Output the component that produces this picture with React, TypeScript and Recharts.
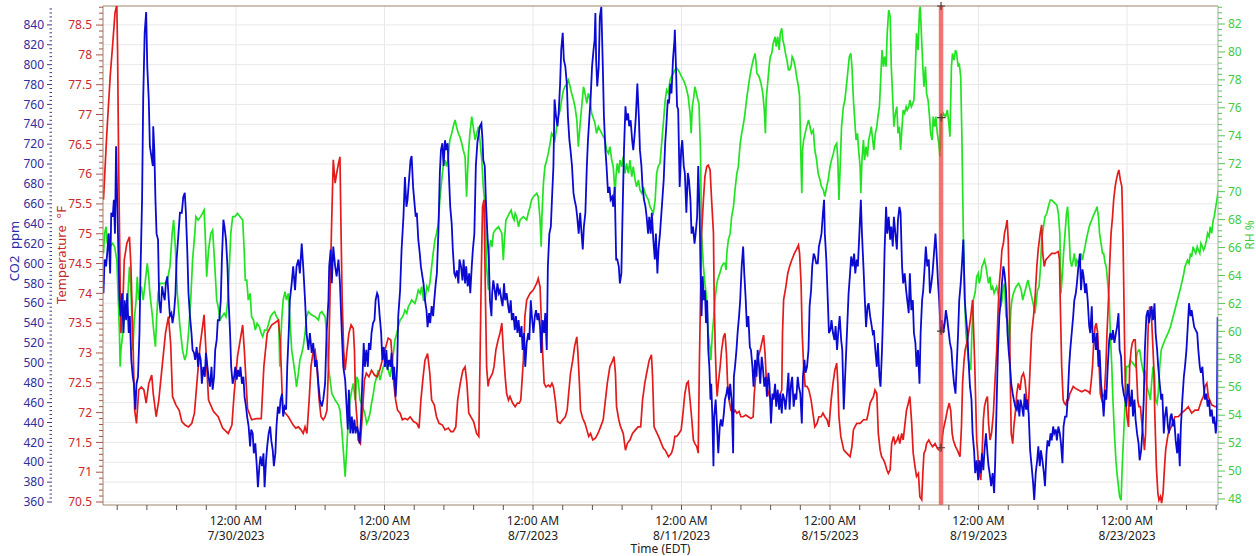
import { LineChart, Line, XAxis, YAxis, CartesianGrid, ReferenceLine, ReferenceDot } from 'recharts';

type Reading = [number, number];

// time is in days from 7/26/2023 12:00 AM EDT
const co2Readings: Reading[] = [
  [0.43,570],[0.46,604],[0.50,597],[0.53,610],[0.57,630],[0.61,590],[0.64,651],[0.68,647],[0.71,664],[0.74,630],
  [0.77,718],[0.80,664],[0.83,614],[0.86,563],[0.89,547],[0.93,570],[0.97,530],[1.00,563],[1.04,543],[1.07,570],
  [1.11,530],[1.14,547],[1.18,503],[1.22,486],[1.25,479],[1.29,453],[1.32,479],[1.36,486],[1.40,530],[1.43,597],
  [1.47,664],[1.50,765],[1.54,832],[1.58,853],[1.61,798],[1.65,765],[1.68,718],[1.72,708],[1.76,698],[1.77,738],
  [1.80,714],[1.83,664],[1.86,630],[1.90,624],[1.93,563],[1.97,550],[2.01,577],[2.04,570],[2.08,563],[2.11,580],
  [2.15,587],[2.19,563],[2.22,547],[2.26,550],[2.29,540],[2.33,550],[2.37,570],[2.40,604],[2.45,630],[2.49,651],
  [2.54,651],[2.58,667],[2.62,671],[2.65,651],[2.69,610],[2.72,570],[2.76,547],[2.80,530],[2.83,513],[2.87,510],
  [2.90,503],[2.94,516],[2.98,496],[3.01,510],[3.05,503],[3.08,479],[3.12,496],[3.16,486],[3.19,510],[3.23,496],
  [3.26,486],[3.30,476],[3.34,496],[3.37,473],[3.41,486],[3.44,513],[3.48,523],[3.51,543],[3.55,543],[3.59,563],
  [3.62,604],[3.66,644],[3.69,637],[3.73,624],[3.77,597],[3.80,563],[3.84,530],[3.87,496],[3.91,479],[3.95,486],
  [3.98,496],[4.02,483],[4.05,493],[4.09,486],[4.12,496],[4.16,479],[4.20,486],[4.23,466],[4.27,456],[4.30,446],
  [4.34,436],[4.38,416],[4.41,433],[4.45,429],[4.48,409],[4.52,419],[4.56,396],[4.59,375],[4.63,396],[4.66,406],
  [4.70,396],[4.74,409],[4.77,375],[4.81,402],[4.84,416],[4.88,429],[4.92,436],[4.95,422],[4.99,412],[5.02,396],
  [5.06,409],[5.09,436],[5.13,456],[5.17,449],[5.20,463],[5.24,469],[5.27,446],[5.31,456],[5.35,453],[5.38,496],
  [5.42,530],[5.45,563],[5.50,580],[5.54,597],[5.59,573],[5.63,597],[5.68,604],[5.72,590],[5.77,620],[5.81,597],
  [5.86,563],[5.90,530],[5.95,513],[5.99,530],[6.04,510],[6.08,520],[6.13,496],[6.17,503],[6.22,479],[6.26,463],
  [6.31,456],[6.35,463],[6.40,479],[6.44,530],[6.49,563],[6.51,597],[6.55,614],[6.58,580],[6.62,617],[6.67,597],
  [6.71,587],[6.76,604],[6.80,580],[6.85,530],[6.89,496],[6.94,483],[6.97,463],[7.01,433],[7.04,473],[7.08,429],
  [7.12,446],[7.15,429],[7.19,443],[7.22,429],[7.26,436],[7.30,429],[7.33,419],[7.37,446],[7.40,479],[7.44,520],
  [7.47,496],[7.51,513],[7.55,496],[7.58,520],[7.62,513],[7.65,530],[7.69,540],[7.73,543],[7.76,563],[7.80,570],
  [7.83,567],[7.87,547],[7.91,530],[7.94,503],[7.98,516],[8.01,496],[8.05,513],[8.08,493],[8.12,503],[8.16,496],
  [8.19,510],[8.23,483],[8.26,496],[8.30,466],[8.34,496],[8.37,547],[8.42,573],[8.46,614],[8.51,647],[8.55,687],
  [8.59,657],[8.62,664],[8.66,684],[8.70,704],[8.73,708],[8.77,677],[8.80,664],[8.84,647],[8.87,651],[8.91,624],
  [8.95,610],[8.98,597],[9.02,587],[9.05,580],[9.09,563],[9.13,553],[9.16,536],[9.20,550],[9.23,540],[9.27,557],
  [9.31,547],[9.34,563],[9.38,580],[9.41,590],[9.45,630],[9.49,691],[9.52,714],[9.56,721],[9.59,698],[9.63,724],
  [9.66,714],[9.70,721],[9.74,684],[9.77,657],[9.81,640],[9.84,614],[9.88,590],[9.91,587],[9.95,593],[9.99,580],
  [10.02,604],[10.06,597],[10.10,583],[10.13,604],[10.17,580],[10.20,597],[10.24,577],[10.28,590],[10.31,570],[10.35,597],
  [10.38,614],[10.42,630],[10.46,698],[10.50,721],[10.54,731],[10.57,738],[10.61,741],[10.64,724],[10.66,704],[10.70,698],
  [10.73,664],[10.77,630],[10.81,604],[10.84,563],[10.88,547],[10.90,570],[10.93,583],[10.97,573],[11.00,563],[11.04,580],
  [11.08,570],[11.11,573],[11.15,563],[11.18,557],[11.22,580],[11.25,563],[11.29,570],[11.33,557],[11.36,550],[11.40,563],
  [11.43,543],[11.47,550],[11.51,533],[11.54,547],[11.58,530],[11.61,543],[11.65,526],[11.69,537],[11.72,513],[11.76,530],
  [11.79,496],[11.83,520],[11.87,530],[11.90,523],[11.94,563],[11.97,547],[12.01,530],[12.05,547],[12.08,553],[12.12,543],
  [12.15,550],[12.19,536],[12.22,510],[12.26,543],[12.30,530],[12.33,550],[12.37,513],[12.40,597],[12.44,630],[12.48,637],
  [12.51,664],[12.55,698],[12.58,765],[12.62,748],[12.66,738],[12.69,751],[12.73,781],[12.76,815],[12.80,832],[12.83,805],
  [12.87,798],[12.91,781],[12.94,748],[12.98,724],[13.01,714],[13.05,698],[13.09,671],[13.12,664],[13.16,657],[13.19,647],
  [13.23,630],[13.27,651],[13.30,634],[13.34,614],[13.37,637],[13.41,651],[13.45,698],[13.48,724],[13.52,748],[13.55,765],
  [13.59,798],[13.63,815],[13.66,825],[13.68,852],[13.70,805],[13.73,778],[13.77,798],[13.80,848],[13.84,858],[13.88,798],
  [13.91,748],[13.95,714],[13.98,698],[14.02,671],[14.06,677],[14.09,664],[14.13,667],[14.16,657],[14.20,677],[14.24,604],
  [14.27,604],[14.31,597],[14.34,580],[14.38,590],[14.41,647],[14.45,714],[14.49,758],[14.52,744],[14.56,751],[14.59,738],
  [14.63,744],[14.67,724],[14.70,714],[14.74,731],[14.77,748],[14.81,781],[14.85,748],[14.88,714],[14.92,698],[14.95,677],
  [14.99,664],[15.03,657],[15.06,647],[15.10,630],[15.13,647],[15.17,630],[15.20,651],[15.24,624],[15.28,604],[15.31,630],
  [15.35,590],[15.38,614],[15.42,630],[15.52,684],[15.56,721],[15.59,738],[15.63,765],[15.66,761],[15.70,781],[15.73,771],
  [15.77,805],[15.81,825],[15.82,835],[15.85,798],[15.88,758],[15.91,755],[15.95,677],[15.99,714],[16.02,724],[16.06,698],
  [16.09,691],[16.13,651],[16.17,691],[16.20,684],[16.24,664],[16.27,630],[16.31,637],[16.35,620],[16.38,630],[16.42,647],
  [16.45,698],[16.49,647],[16.51,597],[16.54,547],[16.57,587],[16.60,563],[16.63,573],[16.66,540],[16.69,563],[16.72,513],
  [16.75,496],[16.78,463],[16.80,479],[16.83,446],[16.86,396],[16.88,446],[16.92,463],[16.96,433],[16.99,409],[17.03,436],
  [17.06,443],[17.10,436],[17.14,449],[17.17,463],[17.21,469],[17.24,476],[17.28,463],[17.31,479],[17.35,463],[17.39,409],
  [17.41,486],[17.44,496],[17.48,513],[17.51,530],[17.55,547],[17.58,563],[17.62,597],[17.66,617],[17.69,590],[17.73,563],
  [17.76,536],[17.80,547],[17.84,516],[17.87,513],[17.91,496],[17.94,476],[17.98,503],[18.02,486],[18.05,513],[18.09,496],
  [18.12,479],[18.16,506],[18.19,496],[18.23,476],[18.27,486],[18.30,466],[18.34,490],[18.37,479],[18.41,439],[18.45,469],
  [18.48,463],[18.52,479],[18.55,456],[18.59,473],[18.63,453],[18.66,469],[18.70,449],[18.73,469],[18.77,463],[18.80,453],
  [18.84,469],[18.88,490],[18.91,453],[18.95,479],[18.98,486],[19.02,456],[19.06,469],[19.09,463],[19.13,486],[19.16,476],
  [19.20,469],[19.24,439],[19.27,486],[19.31,503],[19.34,490],[19.38,496],[19.42,513],[19.45,557],[19.49,573],[19.52,597],
  [19.56,610],[19.59,607],[19.63,600],[19.67,600],[19.70,617],[19.74,624],[19.77,630],[19.81,651],[19.84,664],[19.86,630],
  [19.90,604],[19.94,563],[19.97,530],[20.01,533],[20.04,543],[20.08,530],[20.12,523],[20.15,537],[20.19,513],[20.22,530],
  [20.26,547],[20.30,523],[20.33,513],[20.37,453],[20.50,570],[20.54,590],[20.57,607],[20.61,597],[20.65,610],[20.68,590],
  [20.72,604],[20.75,597],[20.79,630],[20.83,664],[20.86,630],[20.90,597],[20.93,570],[20.97,536],[21.01,557],[21.04,560],
  [21.08,547],[21.11,540],[21.15,530],[21.18,533],[21.22,513],[21.26,496],[21.29,520],[21.33,486],[21.36,476],[21.40,513],
  [21.44,563],[21.47,614],[21.51,657],[21.54,630],[21.58,647],[21.62,624],[21.65,637],[21.69,617],[21.72,647],[21.76,630],
  [21.80,614],[21.83,644],[21.87,657],[21.90,651],[21.94,597],[21.97,580],[22.01,590],[22.05,573],[22.08,563],[22.12,550],
  [22.15,590],[22.19,553],[22.23,563],[22.26,530],[22.30,520],[22.33,496],[22.37,513],[22.41,479],[22.44,530],[22.48,563],
  [22.51,573],[22.55,597],[22.58,617],[22.62,597],[22.66,604],[22.69,570],[22.73,580],[22.76,590],[22.80,610],[22.84,630],
  [22.87,610],[22.91,580],[22.94,563],[22.98,530],[23.02,543],[23.05,530],[23.09,540],[23.12,553],[23.16,543],[23.20,530],
  [23.23,520],[23.27,513],[23.30,496],[23.34,479],[23.38,469],[23.41,496],[23.45,530],[23.48,563],[23.52,580],[23.55,597],
  [23.59,624],[23.63,563],[23.66,547],[23.70,530],[23.73,503],[23.77,476],[23.81,463],[23.84,429],[23.88,412],[23.91,389],
  [23.95,402],[23.99,382],[24.02,402],[24.06,389],[24.09,409],[24.13,392],[24.16,412],[24.20,429],[24.24,409],[24.27,396],
  [24.31,386],[24.34,376],[24.38,389],[24.42,369],[24.45,402],[24.49,463],[24.52,510],[24.56,547],[24.60,563],[24.63,580],
  [24.67,597],[24.70,590],[24.74,573],[24.78,530],[24.81,513],[24.85,496],[24.88,479],[24.92,469],[24.95,463],[24.99,456],
  [25.03,453],[25.06,463],[25.10,446],[25.13,463],[25.17,456],[25.21,446],[25.24,469],[25.28,453],[25.31,463],[25.35,449],
  [25.39,412],[25.43,396],[25.47,379],[25.50,362],[25.54,389],[25.58,402],[25.61,416],[25.65,396],[25.68,412],[25.72,402],
  [25.76,389],[25.79,376],[25.83,409],[25.86,422],[25.90,416],[25.94,429],[25.97,422],[26.01,436],[26.04,429],[26.08,433],
  [26.11,422],[26.15,436],[26.19,429],[26.22,419],[26.26,399],[26.29,436],[26.33,446],[26.37,446],[26.40,463],[26.44,496],
  [26.47,513],[26.51,530],[26.55,547],[26.58,563],[26.62,570],[26.65,580],[26.69,597],[26.73,610],[26.76,573],[26.80,594],
  [26.83,587],[26.87,570],[26.90,580],[26.94,563],[26.98,537],[27.01,530],[27.05,557],[27.08,520],[27.12,530],[27.16,513],
  [27.19,530],[27.23,496],[27.26,513],[27.30,479],[27.34,463],[27.37,446],[27.41,473],[27.44,463],[27.48,496],[27.52,523],
  [27.55,530],[27.59,523],[27.62,533],[27.66,520],[27.70,530],[27.73,536],[27.77,550],[27.80,513],[27.84,506],[27.87,479],
  [27.91,469],[27.95,463],[27.98,456],[28.02,479],[28.05,469],[28.09,456],[28.13,473],[28.16,446],[28.20,463],[28.23,443],
  [28.27,429],[28.31,419],[28.34,402],[28.38,412],[28.41,429],[28.45,463],[28.48,513],[28.52,547],[28.56,553],[28.59,540],
  [28.63,550],[28.66,557],[28.70,543],[28.74,560],[28.77,530],[28.81,513],[28.84,496],[28.88,479],[28.92,463],[28.95,469],
  [28.99,429],[29.02,446],[29.06,456],[29.10,436],[29.13,429],[29.17,446],[29.20,449],[29.24,436],[29.27,443],[29.31,422],
  [29.35,409],[29.38,429],[29.42,396],[29.45,436],[29.49,463],[29.53,486],[29.56,496],[29.60,513],[29.63,533],[29.67,560],
  [29.71,547],[29.74,553],[29.78,543],[29.81,536],[29.85,533],[29.89,530],[29.92,513],[29.96,496],[29.99,490],[30.03,496],
  [30.06,479],[30.10,463],[30.14,469],[30.17,456],[30.21,463],[30.24,446],[30.28,453],[30.32,439],[30.35,446],[30.39,429],
  [30.42,442],[30.44,546],
];

const tempReadings: Reading[] = [
  [0.43,75.57],[0.52,76.68],[0.61,77.63],[0.68,78.19],[0.74,78.70],[0.79,78.84],[0.81,78.08],[0.84,76.12],[0.88,74.17],[0.90,73.33],
  [0.95,73.78],[0.99,74.56],[1.06,74.84],[1.13,74.95],[1.17,74.45],[1.22,73.33],[1.27,72.04],[1.32,71.82],[1.38,72.38],[1.45,72.43],
  [1.52,72.38],[1.58,72.16],[1.65,72.49],[1.73,72.63],[1.77,72.32],[1.85,71.93],[1.92,72.21],[2.01,72.77],[2.10,73.33],[2.18,73.61],
  [2.24,73.16],[2.29,72.27],[2.38,72.13],[2.47,72.04],[2.54,71.85],[2.63,71.79],[2.72,71.76],[2.81,71.82],[2.88,71.99],[2.96,72.60],
  [3.03,73.11],[3.14,73.64],[3.19,73.05],[3.26,72.21],[3.39,72.02],[3.52,71.93],[3.64,71.74],[3.79,71.65],[3.89,71.79],[3.95,72.32],
  [4.04,72.94],[4.18,73.47],[4.23,72.99],[4.31,72.07],[4.42,71.88],[4.56,71.90],[4.68,71.90],[4.75,72.77],[4.84,73.33],[4.96,73.47],
  [5.14,73.55],[5.19,73.22],[5.26,72.04],[5.41,71.93],[5.54,71.79],[5.61,71.74],[5.68,71.76],[5.75,71.71],[5.81,71.65],[5.86,71.76],
  [5.91,71.65],[5.97,72.21],[6.02,72.77],[6.07,72.99],[6.13,73.05],[6.18,72.77],[6.24,72.21],[6.29,71.93],[6.35,71.88],[6.40,71.93],
  [6.45,72.04],[6.49,72.77],[6.53,73.89],[6.58,75.29],[6.62,76.24],[6.67,75.85],[6.71,76.01],[6.76,76.18],[6.80,76.29],[6.83,75.01],
  [6.86,73.89],[6.90,73.05],[6.94,72.71],[6.99,73.05],[7.04,73.33],[7.10,73.47],[7.16,73.41],[7.19,73.05],[7.22,72.21],[7.26,71.88],
  [7.29,71.54],[7.35,71.48],[7.40,71.93],[7.46,72.55],[7.51,72.66],[7.58,72.60],[7.65,72.71],[7.73,72.63],[7.80,72.60],[7.87,72.71],
  [7.92,72.83],[8.01,73.05],[8.10,73.25],[8.17,73.22],[8.21,72.88],[8.25,72.49],[8.30,72.21],[8.35,72.04],[8.42,71.99],[8.48,71.88],
  [8.55,71.90],[8.62,71.88],[8.69,71.93],[8.78,71.85],[8.87,71.82],[8.93,71.74],[8.98,72.21],[9.04,72.60],[9.09,72.88],[9.16,72.99],
  [9.22,72.66],[9.27,72.21],[9.34,72.13],[9.40,71.93],[9.47,71.82],[9.56,71.79],[9.63,71.71],[9.72,71.74],[9.79,71.68],[9.85,71.68],
  [9.92,71.76],[9.97,72.21],[10.04,72.49],[10.11,72.71],[10.17,72.77],[10.22,72.49],[10.27,71.99],[10.40,71.85],[10.48,71.65],[10.54,71.60],
  [10.57,72.77],[10.61,74.45],[10.64,75.45],[10.68,75.57],[10.72,73.89],[10.75,72.77],[10.79,72.44],[10.82,72.55],[10.86,72.60],[10.91,72.66],
  [10.95,72.77],[11.00,73.05],[11.06,73.22],[11.11,73.33],[11.16,73.50],[11.20,73.05],[11.25,72.60],[11.29,72.32],[11.34,72.21],[11.38,72.27],
  [11.45,72.16],[11.52,72.10],[11.58,72.16],[11.63,72.16],[11.67,72.21],[11.70,72.49],[11.74,72.88],[11.78,73.61],[11.83,73.89],[11.92,74.00],
  [12.01,74.06],[12.10,74.17],[12.14,74.25],[12.19,74.11],[12.22,73.61],[12.26,72.99],[12.30,72.49],[12.35,72.43],[12.41,72.46],[12.46,72.43],
  [12.51,72.49],[12.55,72.43],[12.60,72.21],[12.66,71.85],[12.73,71.82],[12.80,71.88],[12.87,71.93],[12.92,72.04],[12.96,72.32],[13.01,72.66],
  [13.07,72.88],[13.12,73.11],[13.18,73.27],[13.21,72.99],[13.25,72.49],[13.28,72.04],[13.34,71.90],[13.40,71.82],[13.45,71.71],[13.50,71.60],
  [13.55,71.65],[13.61,71.54],[13.68,71.57],[13.75,71.65],[13.82,71.76],[13.89,71.88],[13.95,72.21],[14.00,72.49],[14.07,72.77],[14.15,72.88],
  [14.18,72.94],[14.22,72.66],[14.25,72.10],[14.31,71.88],[14.36,71.76],[14.43,71.65],[14.49,71.37],[14.54,71.48],[14.61,71.54],[14.68,71.65],
  [14.76,71.71],[14.83,71.76],[14.90,71.76],[14.95,72.21],[15.01,72.49],[15.06,72.66],[15.13,72.88],[15.19,72.97],[15.22,72.60],[15.26,71.76],
  [15.38,71.60],[15.51,71.40],[15.56,71.37],[15.60,71.32],[15.65,71.26],[15.69,71.29],[15.73,71.32],[15.78,71.43],[15.82,71.60],[15.87,71.60],
  [15.93,71.65],[15.99,71.71],[16.04,71.99],[16.09,72.32],[16.14,72.49],[16.18,72.52],[16.23,72.21],[16.27,71.93],[16.32,71.54],[16.36,71.48],
  [16.41,71.43],[16.45,71.32],[16.48,72.77],[16.51,73.89],[16.54,75.01],[16.59,75.57],[16.63,75.96],[16.68,76.13],[16.72,76.15],[16.77,76.07],
  [16.81,75.57],[16.86,75.01],[16.88,73.89],[16.91,73.05],[16.94,72.49],[16.96,72.27],[16.99,72.49],[17.04,72.77],[17.08,73.05],[17.13,73.27],
  [17.17,73.33],[17.21,72.99],[17.24,72.49],[17.28,72.21],[17.33,72.04],[17.39,71.99],[17.44,72.04],[17.49,71.99],[17.55,72.02],[17.60,71.93],
  [17.66,71.93],[17.73,71.96],[17.80,71.93],[17.87,71.90],[17.93,71.93],[17.96,72.32],[18.02,72.77],[18.07,72.94],[18.12,73.05],[18.18,73.22],
  [18.21,73.30],[18.25,72.99],[18.28,72.60],[18.32,72.38],[18.37,72.27],[18.43,72.21],[18.48,72.27],[18.54,72.27],[18.59,72.21],[18.64,72.27],
  [18.70,72.38],[18.72,73.33],[18.75,73.89],[18.81,74.11],[18.86,74.33],[18.91,74.45],[18.97,74.56],[19.04,74.67],[19.09,74.73],[19.15,74.81],
  [19.18,74.67],[19.22,74.17],[19.25,73.33],[19.29,72.77],[19.33,72.44],[19.38,72.44],[19.43,72.38],[19.49,72.21],[19.54,71.99],[19.59,71.76],
  [19.65,71.82],[19.70,71.93],[19.76,71.93],[19.81,71.99],[19.86,71.93],[19.92,71.88],[19.97,71.76],[20.03,72.21],[20.08,72.49],[20.13,72.71],
  [20.18,72.83],[20.21,72.49],[20.24,71.93],[20.29,71.60],[20.37,71.37],[20.54,71.26],[20.59,71.43],[20.63,71.71],[20.67,71.76],[20.72,71.82],
  [20.81,71.82],[20.90,71.88],[20.99,71.88],[21.03,71.99],[21.08,72.16],[21.12,72.21],[21.17,72.27],[21.21,72.38],[21.26,72.32],[21.30,71.65],
  [21.35,71.37],[21.39,71.26],[21.44,71.21],[21.48,71.15],[21.53,71.04],[21.57,70.98],[21.62,71.04],[21.66,71.48],[21.71,71.60],[21.75,71.48],
  [21.80,71.54],[21.84,71.60],[21.88,71.48],[21.93,71.65],[21.97,71.54],[22.02,71.82],[22.06,72.04],[22.11,72.16],[22.15,72.27],[22.20,71.82],
  [22.24,71.32],[22.29,71.09],[22.33,70.93],[22.38,70.98],[22.42,70.59],[22.47,70.54],[22.50,70.98],[22.53,71.32],[22.57,71.37],[22.60,71.48],
  [22.66,71.54],[22.71,71.48],[22.76,71.43],[22.83,71.48],[22.89,71.40],[22.94,71.37],[23.00,71.48],[23.05,71.71],[23.11,71.88],[23.16,72.04],
  [23.21,72.16],[23.25,72.04],[23.29,71.65],[23.32,71.54],[23.38,71.43],[23.43,71.37],[23.50,71.26],[23.54,71.76],[23.57,72.49],[23.61,72.88],
  [23.64,73.05],[23.68,73.16],[23.73,73.33],[23.79,73.61],[23.84,73.89],[23.87,73.33],[23.90,72.77],[23.95,71.54],[23.99,71.21],[24.02,70.98],
  [24.06,70.87],[24.09,71.21],[24.13,71.88],[24.16,72.10],[24.20,72.21],[24.24,72.27],[24.27,71.82],[24.31,71.54],[24.35,71.65],[24.40,71.99],
  [24.44,72.49],[24.49,73.05],[24.52,73.61],[24.56,74.17],[24.60,74.45],[24.63,74.73],[24.67,74.84],[24.70,75.01],[24.74,75.12],[24.77,75.23],
  [24.80,74.89],[24.83,73.89],[24.85,72.77],[24.88,71.65],[24.92,71.48],[24.95,71.76],[24.99,71.99],[25.03,72.32],[25.07,72.49],[25.12,72.38],
  [25.16,72.60],[25.21,72.66],[25.25,72.55],[25.30,72.21],[25.34,72.04],[25.39,72.77],[25.43,73.33],[25.48,73.61],[25.52,73.89],[25.57,74.45],
  [25.61,74.75],[25.66,75.00],[25.70,75.15],[25.73,74.67],[25.77,74.45],[25.81,74.56],[25.88,74.61],[25.97,74.67],[26.06,74.67],[26.15,74.70],
  [26.18,74.56],[26.20,73.89],[26.24,72.77],[26.28,72.21],[26.31,72.16],[26.35,72.13],[26.38,72.21],[26.42,72.21],[26.46,72.32],[26.51,72.38],
  [26.55,72.44],[26.60,72.41],[26.69,72.38],[26.78,72.35],[26.87,72.38],[26.96,72.35],[27.00,72.32],[27.03,72.49],[27.07,72.77],[27.10,73.16],
  [27.14,73.44],[27.17,73.50],[27.21,73.33],[27.25,72.77],[27.28,72.32],[27.32,72.21],[27.35,72.27],[27.39,72.32],[27.43,72.77],[27.46,73.33],
  [27.50,73.89],[27.53,74.45],[27.57,75.01],[27.61,75.29],[27.64,75.57],[27.68,75.79],[27.71,75.90],[27.75,76.01],[27.78,76.07],[27.82,75.90],
  [27.86,75.79],[27.89,75.01],[27.93,73.33],[27.96,72.21],[28.00,71.93],[28.04,71.76],[28.07,72.77],[28.11,73.05],[28.14,73.16],[28.18,73.22],
  [28.22,73.22],[28.25,72.77],[28.29,72.21],[28.32,72.10],[28.36,72.10],[28.39,71.88],[28.43,71.65],[28.47,71.37],[28.50,71.65],[28.54,72.77],
  [28.57,73.44],[28.61,73.78],[28.65,73.72],[28.68,73.33],[28.72,72.77],[28.75,71.93],[28.79,71.09],[28.83,70.65],[28.86,70.53],[28.90,70.59],
  [28.93,70.48],[28.97,70.65],[29.01,71.09],[29.04,71.37],[29.08,71.54],[29.11,71.65],[29.15,71.71],[29.19,71.76],[29.22,71.82],[29.26,71.88],
  [29.29,71.93],[29.38,71.93],[29.47,71.99],[29.56,72.04],[29.65,72.10],[29.74,71.99],[29.83,72.04],[29.92,72.04],[30.01,72.21],[30.06,72.27],
  [30.10,72.44],[30.15,72.49],[30.19,72.27],[30.28,72.13],[30.37,72.10],[30.46,72.10],
];

const rhReadings: Reading[] = [
  [0.43,65.58],[0.46,67.01],[0.50,67.49],[0.53,66.30],[0.57,67.01],[0.61,66.06],[0.68,66.30],[0.73,66.06],[0.79,65.10],[0.83,62.24],
  [0.86,59.85],[0.88,57.47],[0.90,58.66],[0.95,59.85],[0.99,61.05],[1.04,61.05],[1.08,62.24],[1.13,64.63],[1.17,62.96],[1.22,58.66],
  [1.26,60.81],[1.31,62.24],[1.34,63.91],[1.38,62.24],[1.41,62.72],[1.45,63.20],[1.50,62.24],[1.55,63.43],[1.61,64.87],[1.65,63.91],
  [1.68,62.72],[1.74,61.29],[1.79,59.85],[1.83,58.90],[1.86,60.81],[1.90,62.72],[1.95,63.43],[2.04,63.43],[2.10,63.43],[2.15,63.67],
  [2.22,64.63],[2.28,67.01],[2.32,67.97],[2.37,65.82],[2.42,62.72],[2.49,60.33],[2.56,58.66],[2.62,57.94],[2.67,58.42],[2.72,59.85],
  [2.78,62.24],[2.83,65.10],[2.89,67.01],[2.92,68.21],[2.98,67.97],[3.05,68.21],[3.14,68.68],[3.17,67.01],[3.21,63.91],[3.26,65.82],
  [3.32,67.01],[3.37,67.25],[3.42,65.10],[3.48,62.24],[3.52,61.76],[3.57,60.81],[3.62,61.05],[3.68,61.29],[3.73,61.05],[3.78,62.24],
  [3.82,64.63],[3.86,67.01],[3.91,68.21],[3.97,68.21],[4.04,68.45],[4.11,68.21],[4.18,67.97],[4.22,65.82],[4.25,63.67],[4.29,63.67],
  [4.33,62.24],[4.38,62.72],[4.42,61.05],[4.47,60.81],[4.52,60.09],[4.57,60.57],[4.63,60.33],[4.68,59.85],[4.72,59.62],[4.77,60.09],
  [4.83,60.09],[4.88,60.57],[4.93,61.05],[4.99,61.29],[5.04,61.41],[5.09,61.05],[5.15,60.81],[5.18,57.47],[5.23,60.81],[5.27,62.24],
  [5.32,62.84],[5.36,62.24],[5.41,62.72],[5.50,58.66],[5.54,57.94],[5.59,56.99],[5.63,56.03],[5.68,56.99],[5.72,57.94],[5.77,58.42],
  [5.81,58.90],[5.86,59.85],[5.90,61.05],[5.95,61.41],[6.04,61.17],[6.13,61.05],[6.22,60.81],[6.26,61.29],[6.31,61.41],[6.40,61.05],
  [6.44,59.85],[6.49,57.47],[6.58,55.56],[6.67,55.08],[6.76,54.72],[6.80,54.36],[6.85,52.93],[6.89,51.50],[6.94,49.59],[6.98,51.50],
  [7.03,53.89],[7.07,55.08],[7.12,55.80],[7.16,56.27],[7.21,55.08],[7.25,56.75],[7.29,56.51],[7.34,55.08],[7.38,54.84],[7.47,54.13],
  [7.52,53.41],[7.56,53.65],[7.61,54.13],[7.65,54.84],[7.70,55.56],[7.74,56.27],[7.79,56.75],[7.83,57.23],[7.88,56.51],[7.92,56.99],
  [7.97,57.47],[8.01,57.71],[8.06,57.47],[8.10,57.23],[8.15,56.75],[8.19,57.47],[8.24,58.42],[8.28,59.38],[8.33,59.85],[8.37,60.33],
  [8.42,60.81],[8.46,60.93],[8.51,61.17],[8.55,61.52],[8.60,61.29],[8.64,61.76],[8.69,62.00],[8.73,62.24],[8.82,62.00],[8.87,62.48],
  [8.91,62.96],[8.96,62.72],[9.00,63.20],[9.05,62.24],[9.09,62.24],[9.14,63.20],[9.18,62.96],[9.22,63.43],[9.27,64.63],[9.31,65.58],
  [9.36,66.54],[9.40,67.01],[9.45,67.73],[9.49,69.40],[9.54,70.83],[9.58,71.79],[9.63,72.26],[9.67,71.79],[9.72,72.50],[9.76,73.70],
  [9.81,74.17],[9.85,74.65],[9.90,75.13],[9.94,74.65],[9.99,74.17],[10.03,73.93],[10.08,73.46],[10.12,72.98],[10.17,72.50],[10.21,69.64],
  [10.26,72.74],[10.30,74.17],[10.35,75.37],[10.44,73.70],[10.53,74.65],[10.57,73.70],[10.62,72.26],[10.66,70.35],[10.71,68.92],[10.75,64.63],
  [10.80,62.96],[10.82,65.82],[10.86,66.54],[10.90,66.06],[10.93,67.01],[10.98,67.25],[11.07,67.49],[11.16,67.01],[11.20,65.10],[11.23,66.54],
  [11.27,67.97],[11.32,68.21],[11.36,68.45],[11.41,68.68],[11.45,68.21],[11.49,67.97],[11.52,68.45],[11.56,68.21],[11.61,67.49],[11.65,67.97],
  [11.74,68.21],[11.83,67.97],[11.87,68.45],[11.92,68.92],[11.96,69.40],[12.01,69.64],[12.10,69.88],[12.14,69.64],[12.19,67.97],[12.22,66.06],
  [12.24,68.21],[12.28,70.59],[12.32,71.79],[12.37,72.26],[12.41,72.74],[12.46,73.46],[12.50,74.17],[12.55,73.93],[12.59,73.70],[12.64,74.65],
  [12.68,75.37],[12.73,75.84],[12.77,76.56],[12.82,77.28],[12.86,77.51],[12.91,77.75],[12.95,77.99],[13.00,77.51],[13.04,77.04],[13.09,76.56],
  [13.13,76.08],[13.18,75.13],[13.22,73.22],[13.27,74.89],[13.31,76.08],[13.36,77.51],[13.40,77.04],[13.45,76.32],[13.49,77.04],[13.54,76.56],
  [13.58,75.61],[13.67,74.89],[13.71,74.17],[13.76,74.65],[13.85,74.17],[13.94,73.70],[13.98,72.98],[14.03,72.74],[14.07,73.22],[14.12,72.26],
  [14.16,71.79],[14.21,69.88],[14.24,71.31],[14.27,72.03],[14.31,71.31],[14.34,72.26],[14.39,71.79],[14.43,72.50],[14.48,71.31],[14.52,72.03],
  [14.57,71.31],[14.61,72.26],[14.66,71.07],[14.70,71.79],[14.75,70.83],[14.79,70.35],[14.84,70.83],[14.88,70.12],[14.93,69.88],[14.97,70.35],
  [15.02,69.88],[15.06,69.64],[15.11,69.40],[15.15,68.92],[15.20,68.68],[15.24,68.45],[15.29,69.40],[15.33,71.31],[15.37,71.79],[15.42,72.03],
  [15.51,74.89],[15.56,76.56],[15.60,77.28],[15.65,77.04],[15.69,77.99],[15.73,78.23],[15.78,78.47],[15.82,78.71],[15.87,78.83],[15.91,78.71],
  [15.96,78.47],[16.00,78.23],[16.05,77.99],[16.09,77.75],[16.14,77.28],[16.18,76.80],[16.23,75.61],[16.26,74.17],[16.29,76.08],[16.33,76.80],
  [16.36,77.51],[16.40,77.04],[16.44,76.56],[16.47,76.32],[16.51,72.98],[16.54,67.01],[16.59,64.63],[16.63,63.43],[16.68,62.24],[16.72,59.85],
  [16.77,58.66],[16.79,57.94],[16.83,59.85],[16.87,61.05],[16.90,62.24],[16.94,63.20],[16.97,63.67],[17.03,64.15],[17.08,64.63],[17.13,64.87],
  [17.17,64.87],[17.20,64.39],[17.22,65.58],[17.26,66.54],[17.31,67.01],[17.35,68.21],[17.40,68.92],[17.44,70.12],[17.49,71.31],[17.53,71.79],
  [17.58,73.46],[17.62,74.17],[17.67,74.89],[17.71,75.61],[17.75,76.56],[17.80,77.51],[17.84,78.23],[17.89,78.95],[17.93,79.42],[17.98,79.90],
  [18.01,79.19],[18.03,78.47],[18.09,78.23],[18.14,77.75],[18.19,77.04],[18.23,75.84],[18.26,74.17],[18.28,76.56],[18.32,77.75],[18.36,78.95],
  [18.39,79.66],[18.43,79.90],[18.47,80.62],[18.52,81.09],[18.55,80.38],[18.59,81.09],[18.63,80.14],[18.66,81.33],[18.70,81.69],[18.73,80.86],
  [18.77,80.38],[18.80,79.90],[18.84,79.42],[18.88,78.71],[18.91,78.71],[18.95,78.95],[18.98,79.66],[19.02,79.42],[19.06,78.95],[19.10,78.23],
  [19.15,77.51],[19.18,76.80],[19.21,72.98],[19.24,69.88],[19.26,72.98],[19.29,73.70],[19.33,74.17],[19.37,74.65],[19.42,75.13],[19.46,74.65],
  [19.50,74.17],[19.55,74.41],[19.59,72.98],[19.64,72.26],[19.68,71.31],[19.73,70.83],[19.77,70.35],[19.82,70.12],[19.86,69.64],[19.91,70.35],
  [19.95,70.83],[20.00,71.79],[20.04,72.26],[20.09,72.74],[20.13,73.22],[20.18,73.46],[20.21,72.26],[20.24,69.40],[20.28,72.26],[20.31,74.65],
  [20.36,76.08],[20.40,76.56],[20.45,77.80],[20.52,79.66],[20.56,79.90],[20.59,78.95],[20.63,76.56],[20.66,75.37],[20.70,73.70],[20.74,74.17],
  [20.77,72.98],[20.81,71.79],[20.83,69.88],[20.86,72.26],[20.90,73.70],[20.93,72.26],[20.97,73.22],[21.01,72.50],[21.04,73.70],[21.08,74.17],
  [21.11,74.65],[21.15,73.70],[21.18,72.98],[21.22,74.17],[21.26,74.65],[21.29,75.37],[21.33,76.08],[21.36,77.75],[21.40,80.14],[21.44,78.95],
  [21.47,79.66],[21.51,78.95],[21.54,81.33],[21.58,83.00],[21.62,82.53],[21.65,78.95],[21.69,76.56],[21.72,74.65],[21.76,75.61],[21.80,76.08],
  [21.83,74.17],[21.87,74.65],[21.90,72.98],[21.94,74.65],[21.97,75.84],[22.01,75.61],[22.05,76.08],[22.08,75.84],[22.12,76.08],[22.15,76.56],
  [22.19,76.08],[22.23,76.32],[22.26,76.56],[22.30,78.95],[22.33,81.33],[22.37,80.14],[22.41,83.00],[22.43,83.24],[22.46,81.33],[22.50,78.95],
  [22.53,77.51],[22.57,78.95],[22.60,77.04],[22.64,76.56],[22.68,75.37],[22.71,74.17],[22.75,73.70],[22.78,75.37],[22.82,74.65],[22.85,75.37],
  [22.89,74.17],[22.93,73.46],[22.96,72.50],[22.99,74.89],[23.02,75.37],[23.05,75.61],[23.11,75.37],[23.16,75.84],[23.20,74.89],[23.23,73.93],
  [23.27,78.95],[23.30,79.90],[23.34,79.42],[23.38,80.14],[23.41,79.90],[23.45,78.95],[23.48,79.19],[23.52,78.23],[23.55,74.17],[23.59,67.01],
  [23.63,62.24],[23.66,59.85],[23.73,57.94],[23.79,57.23],[23.82,59.85],[23.86,62.24],[23.91,62.80],[23.95,63.91],[23.99,64.15],[24.02,63.43],
  [24.06,63.91],[24.09,64.63],[24.13,64.87],[24.16,65.10],[24.20,64.63],[24.24,63.91],[24.27,63.43],[24.31,63.91],[24.34,62.96],[24.38,63.20],
  [24.42,62.72],[24.49,63.20],[24.56,62.24],[24.60,61.76],[24.63,62.24],[24.67,63.20],[24.70,63.43],[24.74,61.05],[24.78,60.81],[24.81,59.85],
  [24.83,58.90],[24.87,61.52],[24.90,62.24],[24.94,62.72],[25.01,63.20],[25.08,63.43],[25.15,62.96],[25.19,62.24],[25.26,62.96],[25.33,63.67],
  [25.45,62.24],[25.49,61.76],[25.52,61.29],[25.56,62.24],[25.59,62.96],[25.63,63.20],[25.67,64.63],[25.70,66.54],[25.75,67.49],[25.79,68.21],
  [25.84,68.45],[25.88,68.92],[25.93,69.40],[25.97,69.40],[26.06,69.16],[26.11,69.04],[26.15,68.45],[26.19,67.01],[26.22,62.72],[26.26,64.15],
  [26.29,65.58],[26.33,67.01],[26.37,68.45],[26.40,68.92],[26.44,67.01],[26.47,65.10],[26.51,64.63],[26.55,65.10],[26.58,65.58],[26.62,64.63],
  [26.65,65.10],[26.69,64.87],[26.73,64.63],[26.76,65.58],[26.80,65.10],[26.83,65.58],[26.87,66.06],[26.90,66.54],[26.94,67.01],[26.98,67.49],
  [27.01,67.73],[27.05,67.97],[27.08,68.21],[27.12,68.45],[27.16,68.68],[27.19,68.92],[27.23,68.21],[27.26,67.01],[27.30,66.30],[27.34,65.58],
  [27.37,65.58],[27.41,64.87],[27.44,64.63],[27.48,63.43],[27.52,62.24],[27.55,59.85],[27.59,57.47],[27.62,55.08],[27.66,52.69],[27.70,50.78],
  [27.73,49.83],[27.77,48.88],[27.80,48.16],[27.84,47.92],[27.87,50.31],[27.91,52.69],[27.95,55.08],[27.98,57.47],[28.05,57.47],[28.09,57.94],
  [28.16,57.71],[28.23,57.47],[28.27,58.42],[28.31,58.66],[28.34,58.66],[28.38,57.94],[28.41,57.47],[28.45,56.99],[28.48,57.23],[28.52,56.27],
  [28.56,55.80],[28.59,55.56],[28.63,55.08],[28.66,56.27],[28.70,57.47],[28.74,56.99],[28.77,55.08],[28.81,54.84],[28.84,55.56],[28.88,57.47],
  [28.92,58.66],[28.95,58.90],[29.02,59.38],[29.10,59.85],[29.17,60.33],[29.24,61.05],[29.31,61.76],[29.38,62.48],[29.45,63.20],[29.53,64.15],
  [29.56,64.63],[29.63,65.10],[29.67,64.87],[29.71,65.58],[29.74,65.34],[29.78,66.06],[29.81,65.82],[29.85,65.58],[29.89,66.06],[29.92,65.82],
  [29.96,65.58],[29.99,66.30],[30.03,66.06],[30.06,65.82],[30.10,66.06],[30.14,66.54],[30.17,67.01],[30.21,66.78],[30.24,67.49],[30.28,67.01],
  [30.32,67.97],[30.35,68.21],[30.39,68.92],[30.42,69.40],[30.46,70.12],
];

// midnight label positions (days) and their dates
const labelDays = [4, 8, 12, 16, 20, 24, 28];
const labelDates = ['7/30/2023', '8/3/2023', '8/7/2023', '8/11/2023', '8/15/2023', '8/19/2023', '8/23/2023'];

// cursor position and the readings it crosses
const cursorDay = 22.99;
const cursorCo2 = 532;
const cursorTemp = 71.41;
const cursorRh = 75.3;

const dayRange: [number, number] = [0.4175, 30.45];
const co2Range: [number, number] = [357, 859];
const tempRange: [number, number] = [70.45, 78.82];
const rhRange: [number, number] = [47.57, 83.29];

const xTicks = Array.from({ length: 38 }, (_, i) => ((i + 1) * 8) / 10);
const co2Ticks = Array.from({ length: 125 }, (_, i) => 360 + i * 4);
const co2Grid = Array.from({ length: 25 }, (_, i) => 360 + i * 20);
const tempTicks = Array.from({ length: 84 }, (_, i) => (705 + i) / 10);
const rhTicks = Array.from({ length: 89 }, (_, i) => (480 + i * 4) / 10);

const toPoints = (rows: Reading[]) => rows.map(([t, v]) => ({ t, v }));
const co2Data = toPoints(co2Readings);
const tempData = toPoints(tempReadings);
const rhData = toPoints(rhReadings);

const FONT = "'Noto Sans', 'Open Sans', sans-serif";
const BLUE = '#0a0ad2';
const RED = '#e31b1b';
const GREEN = '#22e322';

// left axes stack by id: "airTemp" sits against the plot, "co2" outside it
const TEMP_AXIS = 'airTemp';
const CO2_AXIS = 'co2';
const RH_AXIS = 'rh';

const Co2Tick = ({ x, y, payload }: any) => {
  const v = payload.value;
  const major = v % 20 === 0;
  return (
    <g>
      <line x1={x - (major ? 5 : 2.5)} x2={x} y1={y} y2={y} stroke="#3a3a9e" />
      {major && (
        <text x={x - 8} y={y} dy="0.35em" textAnchor="end" fill="#2e2e9e" fontSize={12} fontFamily={FONT}>
          {v}
        </text>
      )}
    </g>
  );
};

const TempTick = ({ x, y, payload }: any) => {
  const v = payload.value;
  const major = Math.round(v * 10) % 5 === 0;
  return (
    <g>
      <line x1={x - (major ? 7 : 4)} x2={x} y1={y} y2={y} stroke="#a8524a" />
      {major && (
        <text x={x - 11} y={y} dy="0.35em" textAnchor="end" fill="#c9292d" fontSize={12} fontFamily={FONT}>
          {Number.isInteger(v) ? v : v.toFixed(1)}
        </text>
      )}
    </g>
  );
};

const RhTick = ({ x, y, payload }: any) => {
  const v = payload.value;
  const major = Math.round(v * 10) % 20 === 0;
  return (
    <g>
      <line x1={x} x2={x + (major ? 7 : 4)} y1={y} y2={y} stroke="#52c852" />
      {major && (
        <text x={x + 10} y={y} dy="0.35em" textAnchor="start" fill="#3fcc3f" fontSize={12} fontFamily={FONT}>
          {Math.round(v)}
        </text>
      )}
    </g>
  );
};

const TimeTick = ({ x, y, payload }: any) => {
  const idx = labelDays.indexOf(payload.value);
  return (
    <g>
      <line x1={x} x2={x} y1={y} y2={y + 5} stroke="#555" />
      {idx >= 0 && (
        <text x={x} y={y + 20} textAnchor="middle" fill="#222" fontSize={12} fontFamily={FONT}>
          <tspan x={x}>12:00 AM</tspan>
          <tspan x={x} dy={15}>{labelDates[idx]}</tspan>
        </text>
      )}
    </g>
  );
};

const SideTitle = ({ viewBox, text, dx, cy, color, size = 13 }: any) => {
  const x = viewBox.x + dx;
  return (
    <text
      x={x}
      y={cy}
      transform={`rotate(-90 ${x} ${cy})`}
      textAnchor="middle"
      dominantBaseline="central"
      fill={color}
      fontSize={size}
      fontFamily={FONT}
    >
      {text}
    </text>
  );
};

const TimeTitle = ({ viewBox }: any) => (
  <text x={viewBox.x + viewBox.width / 2} y={viewBox.y + 48} textAnchor="middle" fill="#222" fontSize={12} fontFamily={FONT}>
    Time (EDT)
  </text>
);

const CrossMark = ({ cx, cy }: any) => (
  <path d={`M${cx - 4},${cy}H${cx + 4}M${cx},${cy - 4}V${cy + 4}`} stroke="#4a3a30" strokeWidth={1.2} />
);

export default function App() {
  return (
    <div style={{ position: 'absolute', left: 0, top: 0, width: 1256, height: 556, background: '#fff' }}>
      <LineChart width={1256} height={556} margin={{ top: 6, right: 0, bottom: 0, left: 0 }}>
        <CartesianGrid
          yAxisId={CO2_AXIS}
          horizontalValues={co2Grid}
          verticalValues={labelDays}
          stroke="#e8e8e8"
        />
        <XAxis
          type="number"
          dataKey="t"
          domain={dayRange}
          allowDataOverflow
          ticks={xTicks}
          interval={0}
          height={51}
          tickSize={0}
          tickMargin={0}
          tickLine={false}
          tick={<TimeTick />}
          axisLine={{ stroke: '#9c8468' }}
          label={<TimeTitle />}
        />
        <YAxis
          yAxisId={TEMP_AXIS}
          orientation="left"
          width={51}
          domain={tempRange}
          allowDataOverflow
          ticks={tempTicks}
          interval={0}
          tickSize={0}
          tickMargin={0}
          tickLine={false}
          tick={<TempTick />}
          axisLine={{ stroke: '#9c8468' }}
          label={<SideTitle text={'Temperature\u00a0\u00a0°F'} dx={9} cy={255} color="#c62a2a" />}
        />
        <YAxis
          yAxisId={CO2_AXIS}
          orientation="left"
          width={52}
          domain={co2Range}
          allowDataOverflow
          ticks={co2Ticks}
          interval={0}
          tickSize={0}
          tickMargin={0}
          tickLine={false}
          tick={<Co2Tick />}
          axisLine={false}
          label={<SideTitle text={'CO2\u00a0\u00a0ppm'} dx={14} cy={251} color="#2e2ea8" />}
        />
        <YAxis
          yAxisId={RH_AXIS}
          orientation="right"
          width={38}
          domain={rhRange}
          allowDataOverflow
          ticks={rhTicks}
          interval={0}
          tickSize={0}
          tickMargin={0}
          tickLine={false}
          tick={<RhTick />}
          axisLine={{ stroke: '#a8a8a8' }}
          label={<SideTitle text="RH %" dx={31} cy={235} color="#3fcc3f" size={12} />}
        />
        <ReferenceLine yAxisId={CO2_AXIS} y={co2Range[1]} stroke="#9c8468" />
        <Line yAxisId={RH_AXIS} data={rhData} dataKey="v" type="linear" stroke={GREEN} strokeWidth={1.7} dot={false} isAnimationActive={false} />
        <Line yAxisId={TEMP_AXIS} data={tempData} dataKey="v" type="linear" stroke={RED} strokeWidth={1.7} dot={false} isAnimationActive={false} />
        <Line yAxisId={CO2_AXIS} data={co2Data} dataKey="v" type="linear" stroke={BLUE} strokeWidth={1.8} dot={false} isAnimationActive={false} />
        <ReferenceLine yAxisId={CO2_AXIS} x={cursorDay} stroke="#ee4444" strokeOpacity={0.75} strokeWidth={4.5} />
        <ReferenceDot yAxisId={RH_AXIS} x={cursorDay} y={cursorRh} shape={<CrossMark />} />
        <ReferenceDot yAxisId={CO2_AXIS} x={cursorDay} y={cursorCo2} shape={<CrossMark />} />
        <ReferenceDot yAxisId={TEMP_AXIS} x={cursorDay} y={cursorTemp} shape={<CrossMark />} />
        <ReferenceDot yAxisId={CO2_AXIS} x={cursorDay} y={co2Range[1]} shape={<CrossMark />} />
      </LineChart>
    </div>
  );
}
